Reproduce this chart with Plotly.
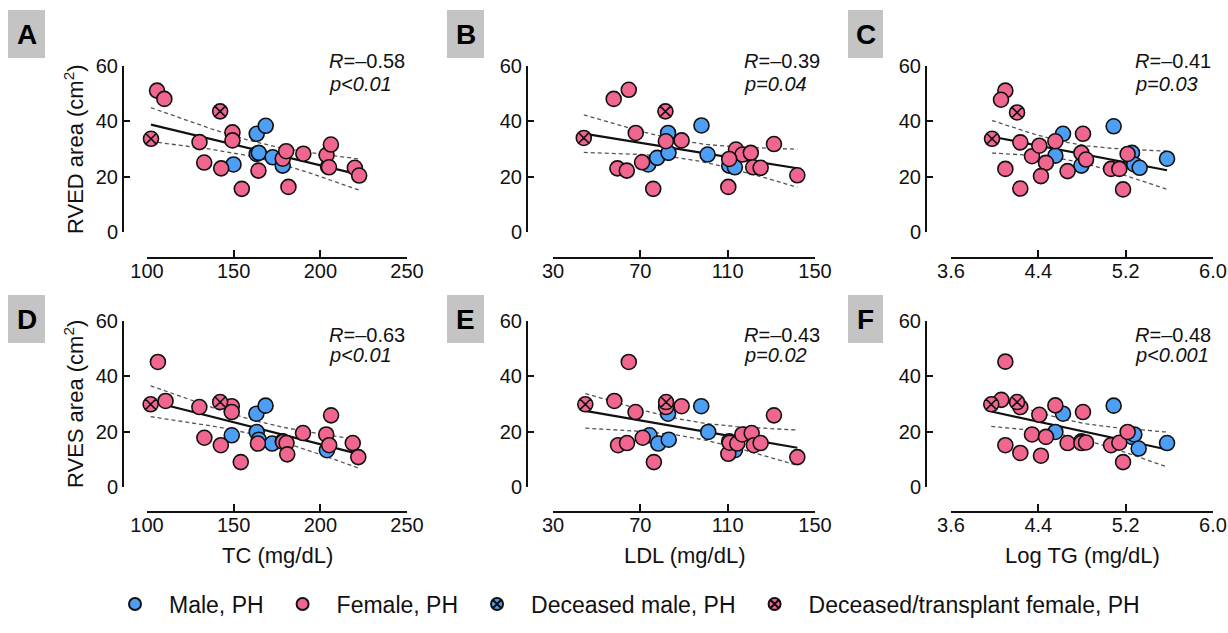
import numpy as np
import plotly.graph_objects as go

W, H = 1228, 633
BLUE = "#4d9ff5"
PINK = "#f0668f"
FONT = "Liberation Sans"

# ---------------- data ----------------
# Panel A: TC vs RVED area
A_male_x = [149.9, 163.3, 168.5, 163.3, 164.5, 172.5, 178.3, 204.5]
A_male_y = [24.4, 35.5, 38.4, 28.2, 28.6, 27.0, 24.0, 23.6]
A_fem_x = [105.8, 110.0, 130.3, 133.0, 142.8, 149.3, 149.3, 154.7, 164.3, 178.3,
           180.3, 181.6, 190.2, 203.6, 206.1, 205.0, 219.9, 222.4]
A_fem_y = [51.1, 48.1, 32.5, 25.1, 23.0, 36.0, 33.1, 15.6, 22.2, 26.5,
           29.2, 16.3, 28.3, 27.8, 31.6, 23.4, 23.2, 20.4]
A_decf_x = [102.3, 142.2]
A_decf_y = [33.7, 43.6]

# Panel B: LDL vs RVED area
B_male_x = [73.6, 77.7, 82.7, 82.9, 98.0, 100.8, 110.7, 113.3]
B_male_y = [24.4, 26.8, 35.8, 28.6, 38.5, 28.0, 24.0, 23.4]
B_fem_x = [57.8, 64.7, 67.9, 59.5, 63.8, 70.8, 75.9, 81.7, 88.9, 113.8,
           116.8, 120.6, 110.7, 121.7, 125.1, 110.3, 131.2, 141.9]
B_fem_y = [48.1, 51.4, 35.8, 23.0, 22.2, 25.2, 15.6, 32.8, 33.1, 29.8,
           28.0, 28.6, 26.4, 23.4, 23.2, 16.3, 31.8, 20.5]
B_decf_x = [44.1, 81.5]
B_decf_y = [34.0, 43.6]

# Panel C: Log TG vs RVED area
C_male_x = [4.626, 4.556, 4.794, 5.090, 5.258, 5.279, 5.328, 5.579]
C_male_y = [35.5, 27.6, 24.0, 38.2, 28.6, 24.4, 23.2, 26.5]
C_fem_x = [4.098, 4.058, 4.235, 4.098, 4.235, 4.342, 4.409, 4.470, 4.424, 4.556,
           4.668, 4.809, 4.794, 4.837, 5.066, 5.142, 5.176, 5.218]
C_fem_y = [51.1, 47.8, 32.4, 22.8, 15.7, 27.4, 31.2, 25.0, 20.2, 32.8,
           22.0, 35.5, 28.6, 26.2, 22.8, 22.8, 15.4, 28.2]
C_decf_x = [4.205, 3.976]
C_decf_y = [43.2, 33.7]

# Panel D: TC vs RVES area
D_male_x = [148.9, 163.1, 168.4, 163.3, 164.5, 172.2, 178.3, 203.8]
D_male_y = [18.7, 26.5, 29.4, 19.9, 17.1, 15.7, 16.5, 13.3]
D_fem_x = [106.3, 110.7, 130.2, 133.1, 142.6, 148.9, 148.9, 154.1, 164.0, 178.5,
           180.5, 180.9, 190.0, 203.4, 205.1, 206.2, 218.7, 221.9]
D_fem_y = [45.2, 31.1, 28.9, 17.8, 15.1, 29.2, 27.1, 9.0, 15.7, 16.3,
           15.9, 11.8, 19.5, 19.0, 15.1, 25.9, 15.9, 10.8]
D_decf_x = [102.1, 142.2]
D_decf_y = [29.9, 30.7]

# Panel E: LDL vs RVES area
E_male_x = [74.2, 78.2, 83.0, 82.7, 97.9, 101.1, 113.3, 110.7]
E_male_y = [18.7, 15.7, 17.1, 26.5, 29.2, 19.9, 13.3, 16.5]
E_fem_x = [58.1, 64.7, 67.8, 59.8, 63.9, 71.1, 76.2, 81.8, 88.9, 110.3,
           110.9, 114.4, 116.7, 121.0, 122.0, 125.1, 131.2, 141.9]
E_fem_y = [31.1, 45.2, 27.1, 15.1, 15.9, 17.8, 9.0, 28.9, 29.2, 12.0,
           16.0, 15.7, 19.0, 19.5, 15.1, 15.9, 25.9, 10.8]
E_decf_x = [44.8, 81.8]
E_decf_y = [29.9, 30.7]

# Panel F: Log TG vs RVES area
F_male_x = [4.626, 4.556, 5.090, 5.258, 5.279, 5.319, 5.579, 4.794]
F_male_y = [26.5, 19.9, 29.4, 18.1, 19.0, 13.9, 15.9, 16.5]
F_fem_x = [4.061, 4.098, 4.098, 4.235, 4.235, 4.342, 4.409, 4.424, 4.470, 4.556,
           4.668, 4.809, 4.794, 4.837, 5.066, 5.142, 5.176, 5.218]
F_fem_y = [31.5, 45.3, 15.1, 28.9, 12.3, 19.0, 26.1, 11.3, 18.1, 29.5,
           15.9, 27.1, 15.9, 16.1, 15.1, 16.0, 9.0, 19.9]
F_decf_x = [3.969, 4.205]
F_decf_y = [29.9, 30.7]

panel_letters = ["A", "B", "C", "D", "E", "F"]
r_texts = ["–0.58", "–0.39", "–0.41", "–0.63", "–0.43", "–0.48"]
p_texts = ["p&lt;0.01", "p=0.04", "p=0.03", "p&lt;0.01", "p=0.02", "p&lt;0.001"]

x_ranges = [[100, 250], [30, 150], [3.6, 6.0]]
x_ticks = [[100, 150, 200, 250], [30, 70, 110, 150], [3.6, 4.4, 5.2, 6.0]]
x_ticktext = [["100", "150", "200", "250"], ["30", "70", "110", "150"],
              ["3.6", "4.4", "5.2", "6.0"]]
x_titles = ["TC (mg/dL)", "LDL (mg/dL)", "Log TG (mg/dL)"]
y_titles = ["RVED area (cm<sup>2</sup>)", "RVES area (cm<sup>2</sup>)"]
y_ticks = [0, 20, 40, 60]

panels = [
    (A_male_x, A_male_y, A_fem_x, A_fem_y, A_decf_x, A_decf_y),
    (B_male_x, B_male_y, B_fem_x, B_fem_y, B_decf_x, B_decf_y),
    (C_male_x, C_male_y, C_fem_x, C_fem_y, C_decf_x, C_decf_y),
    (D_male_x, D_male_y, D_fem_x, D_fem_y, D_decf_x, D_decf_y),
    (E_male_x, E_male_y, E_fem_x, E_fem_y, E_decf_x, E_decf_y),
    (F_male_x, F_male_y, F_fem_x, F_fem_y, F_decf_x, F_decf_y),
]

# ---------------- geometry (page pixels) ----------------
col_x0 = [147, 553, 951]
col_x1 = [407, 815, 1213]
col_yline = [123, 527, 926]
col_letter_box = [(8, 45), (447, 484), (848, 883)]
col_text_x = [327, 742, 1133]
row_y0 = [232, 487]      # pixel of value 0
row_y60 = [66, 321]      # pixel of value 60
row_xline = [258, 512]
row_box = [(10, 58), (295, 343)]
row_r_y = [61, 335]
row_p_y = [84, 355]


def fx(p):
    return p / W


def fy(p):
    return 1 - p / H


def fit_band(x, y, ngrid=60):
    x = np.asarray(x, float)
    y = np.asarray(y, float)
    n = len(x)
    b, a = np.polyfit(x, y, 1)
    xs = np.linspace(x.min(), x.max(), ngrid)
    yh = a + b * xs
    resid = y - (a + b * x)
    s = np.sqrt(np.sum(resid ** 2) / (n - 2))
    sxx = np.sum((x - x.mean()) ** 2)
    t = 2.056
    se = s * np.sqrt(1.0 / n + (xs - x.mean()) ** 2 / sxx)
    return xs, yh, yh - t * se, yh + t * se


fig = go.Figure()
layout = dict()
shapes = []
annotations = []

for i, (mx, my, fxs, fys, dx, dy) in enumerate(panels):
    r, c = divmod(i, 3)
    k = i + 1
    xa = "x" if k == 1 else f"x{k}"
    ya = "y" if k == 1 else f"y{k}"
    xkey = "xaxis" if k == 1 else f"xaxis{k}"
    ykey = "yaxis" if k == 1 else f"yaxis{k}"

    allx = list(mx) + list(fxs) + list(dx)
    ally = list(my) + list(fys) + list(dy)
    xs, yh, lo, hi = fit_band(allx, ally)

    for yy, dash, col, wd in [(lo, "4px,3px", "#555555", 1.3),
                              (hi, "4px,3px", "#555555", 1.3),
                              (yh, "solid", "#111111", 2.2)]:
        fig.add_trace(go.Scatter(x=xs, y=yy, mode="lines", xaxis=xa, yaxis=ya,
                                 line=dict(color=col, width=wd, dash=dash),
                                 showlegend=False, hoverinfo="skip"))

    mk = dict(size=15, line=dict(color="#111111", width=1.6))
    fig.add_trace(go.Scatter(x=mx, y=my, mode="markers", xaxis=xa, yaxis=ya,
                             name="Male, PH", legendgroup="m", legendrank=1,
                             showlegend=(i == 0), cliponaxis=False,
                             marker=dict(color=BLUE, symbol="circle", **mk)))
    fig.add_trace(go.Scatter(x=fxs, y=fys, mode="markers", xaxis=xa, yaxis=ya,
                             name="Female, PH", legendgroup="f", legendrank=2,
                             showlegend=(i == 0), cliponaxis=False,
                             marker=dict(color=PINK, symbol="circle", **mk)))
    fig.add_trace(go.Scatter(x=dx, y=dy, mode="markers", xaxis=xa, yaxis=ya,
                             name="Deceased/transplant female, PH", legendgroup="df",
                             legendrank=4, showlegend=(i == 0), cliponaxis=False,
                             marker=dict(color=PINK, symbol="circle-x", **mk)))
    if i == 0:
        fig.add_trace(go.Scatter(x=[None], y=[None], mode="markers", xaxis=xa, yaxis=ya,
                                 name="Deceased male, PH", legendgroup="dm",
                                 legendrank=3, showlegend=True,
                                 marker=dict(color=BLUE, symbol="circle-x", **mk)))

    layout[xkey] = dict(
        domain=[fx(col_x0[c]), fx(col_x1[c])], anchor="free", position=fy(row_xline[r]),
        range=x_ranges[c], tickvals=x_ticks[c], ticktext=x_ticktext[c],
        showgrid=False, zeroline=False, showline=True, linecolor="#111111", linewidth=2,
        ticks="inside", ticklen=7, tickwidth=2, tickcolor="#111111",
        ticklabelstandoff=-5, automargin=False,
        tickfont=dict(family=FONT, size=20, color="#111111"),
    )
    layout[ykey] = dict(
        domain=[fy(row_y0[r]), fy(row_y60[r])], anchor="free", position=fx(col_yline[c]),
        range=[0, 60], tickvals=y_ticks,
        showgrid=False, zeroline=False, showline=True, linecolor="#111111", linewidth=2,
        ticks="inside", ticklen=6, tickwidth=2, tickcolor="#111111",
        ticklabelstandoff=0, automargin=False,
        tickfont=dict(family=FONT, size=20, color="#111111"),
    )

    # panel letter box
    bx0, bx1 = col_letter_box[c]
    by0, by1 = row_box[r]
    shapes.append(dict(type="rect", xref="paper", yref="paper",
                       x0=fx(bx0), x1=fx(bx1), y0=fy(by1), y1=fy(by0),
                       fillcolor="#c4c4c4", line=dict(width=0), layer="below"))
    annotations.append(dict(text=f"<b>{panel_letters[i]}</b>", xref="paper", yref="paper",
                            x=fx((bx0 + bx1) / 2), y=fy((by0 + by1) / 2),
                            xanchor="center", yanchor="middle", showarrow=False,
                            font=dict(family=FONT, size=28, color="#000000")))
    # R and p
    annotations.append(dict(text=f"<i>R</i>={r_texts[i]}", xref="paper", yref="paper",
                            x=fx(col_text_x[c]), y=fy(row_r_y[r]), xanchor="left",
                            yanchor="middle", showarrow=False,
                            font=dict(family=FONT, size=20, color="#111111")))
    annotations.append(dict(text=f"<i>{p_texts[i]}</i>", xref="paper", yref="paper",
                            x=fx(col_text_x[c]), y=fy(row_p_y[r]), xanchor="left",
                            yanchor="middle", showarrow=False,
                            font=dict(family=FONT, size=20, color="#111111")))

# axis titles
for r in range(2):
    annotations.append(dict(text=y_titles[r], xref="paper", yref="paper",
                            x=fx(74), y=fy((row_y0[r] + row_y60[r]) / 2),
                            xanchor="center", yanchor="middle", textangle=-90,
                            showarrow=False,
                            font=dict(family=FONT, size=22, color="#111111")))
for c in range(3):
    annotations.append(dict(text=x_titles[c], xref="paper", yref="paper",
                            x=fx((col_x0[c] + col_x1[c]) / 2), y=fy(555),
                            xanchor="center", yanchor="middle", showarrow=False,
                            font=dict(family=FONT, size=22, color="#111111")))

fig.update_layout(
    template="none",
    width=W, height=H, margin=dict(l=0, r=0, t=0, b=0, pad=0, autoexpand=False),
    paper_bgcolor="white", plot_bgcolor="white",
    font=dict(family=FONT, color="#111111"),
    shapes=shapes, annotations=annotations,
    legend=dict(orientation="h", x=fx(101), xanchor="left", y=fy(604),
                yanchor="middle", font=dict(family=FONT, size=23, color="#111111"),
                bgcolor="rgba(0,0,0,0)", itemsizing="constant", itemwidth=58,
                borderwidth=0),
    **layout,
)

# place the figure flush with the page corner (no body margin, no scrollbars)
fig.write_html(
    "out.html",
    config={"displayModeBar": False},
    post_script="document.body.style.margin='0';"
                "document.documentElement.style.overflow='hidden';"
                "document.body.style.overflow='hidden';",
)
